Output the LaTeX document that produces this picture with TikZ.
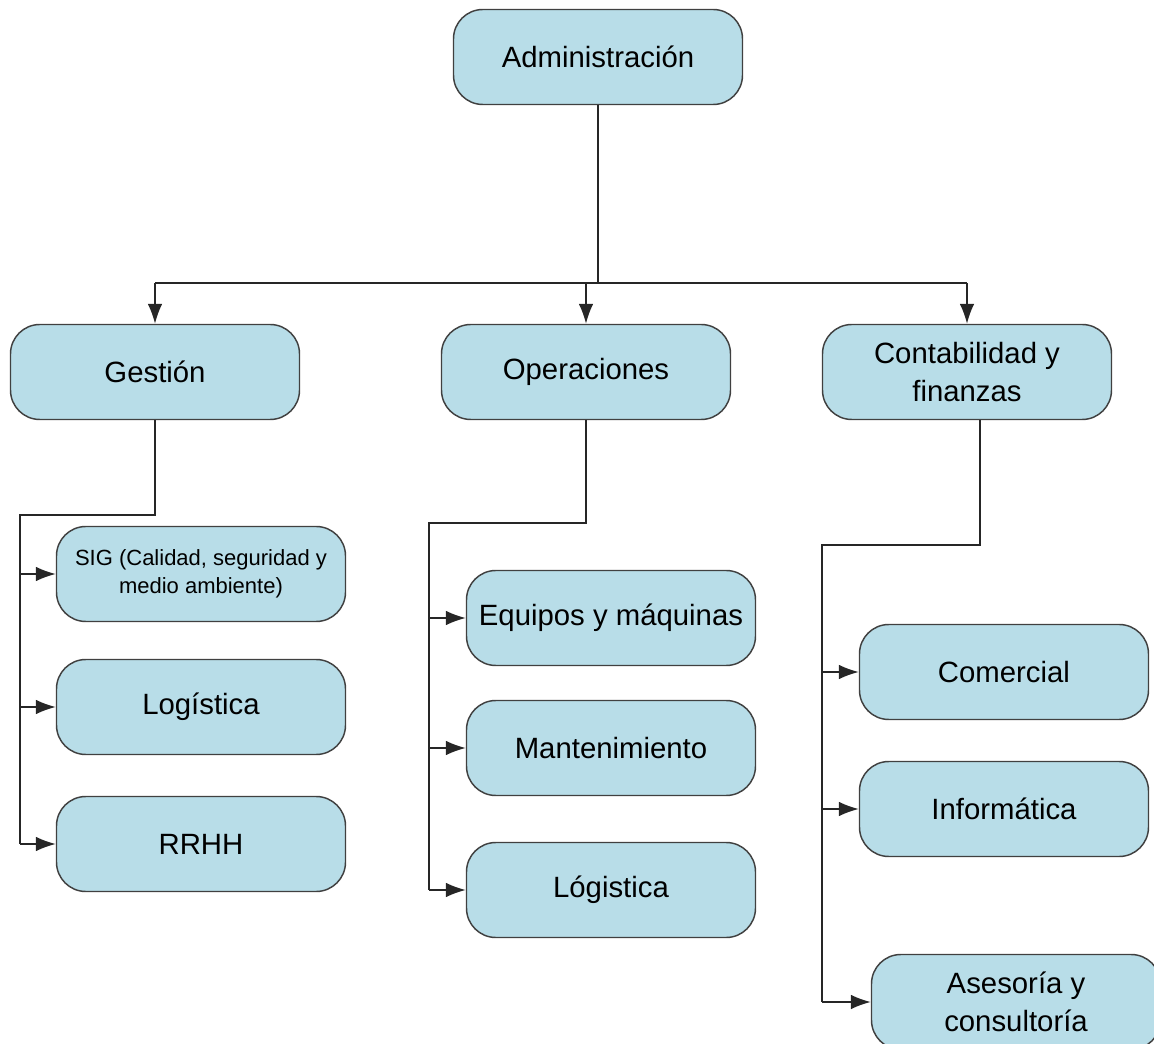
\documentclass[tikz,border=0pt]{standalone}
\usepackage{fontspec}
\setmainfont{Liberation Sans}
\usetikzlibrary{arrows.meta}

\definecolor{boxfill}{HTML}{B8DDE8}
\definecolor{boxline}{HTML}{404040}

\begin{document}
\begin{tikzpicture}[x=0.75pt, y=-0.75pt, line width=1.1pt,
	box/.style={rectangle, rounded corners=22pt, draw=boxline, fill=boxfill, minimum width=216.75pt, minimum height=71.25pt, inner sep=0pt, align=center, font=\fontsize{22}{28}\selectfont},
	small/.style={font=\fontsize{16.5}{21}\selectfont},
	conn/.style={draw=black!85},
	arr/.style={conn, -{Latex[length=15pt,width=11pt]}}]
		\useasboundingbox (0,0) rectangle (1154,1044);
		% top
		\node[box] at (598,57) (adm) {Administración};
		\node[box] at (155,372) (ges) {Gestión};
		\node[box] at (586,372) (ope) {Operaciones};
		\node[box] at (967,372) (con) {Contabilidad y\\finanzas};
		% gestion
		\node[box,small] at (201,574) (sig) {SIG (Calidad, seguridad y\\medio ambiente)};
		\node[box] at (201,707) (log) {Logística};
		\node[box] at (201,844) (rrhh) {RRHH};
		% operaciones
		\node[box] at (611,618) (equ) {Equipos y máquinas};
		\node[box] at (611,748) (man) {Mantenimiento};
		\node[box] at (611,890) (lgs) {Lógistica};
		% contabilidad
		\node[box] at (1004,672) (com) {Comercial};
		\node[box] at (1004,809) (inf) {Informática};
		\node[box] at (1016,1002) (ase) {Asesoría y\\consultoría};
		\coordinate (bus) at (598,283);
		\coordinate (g1) at (20,515);
		\coordinate (o1) at (429,523);
		\coordinate (c1) at (980,545);
		\coordinate (c2) at (822,545);
		\draw[conn] (adm.south) -- (bus);
		\draw[conn] (bus -| ges) -- (bus -| con);
		\draw[arr] (bus -| ges) -- (ges.north);
		\draw[arr] (bus -| ope) -- (ope.north);
		\draw[arr] (bus -| con) -- (con.north);
		\draw[conn] (ges.south) |- (g1) -- (g1 |- rrhh);
		\draw[arr] (g1 |- sig) -- (sig.west);
		\draw[arr] (g1 |- log) -- (log.west);
		\draw[arr] (g1 |- rrhh) -- (rrhh.west);
		\draw[conn] (ope.south) |- (o1) -- (o1 |- lgs);
		\draw[arr] (o1 |- equ) -- (equ.west);
		\draw[arr] (o1 |- man) -- (man.west);
		\draw[arr] (o1 |- lgs) -- (lgs.west);
		\draw[conn] (c1 |- con.south) -- (c1) -- (c2) -- (c2 |- ase);
		\draw[arr] (c2 |- com) -- (com.west);
		\draw[arr] (c2 |- inf) -- (inf.west);
		\draw[arr] (c2 |- ase) -- (ase.west);
	\end{tikzpicture}
\end{document}
